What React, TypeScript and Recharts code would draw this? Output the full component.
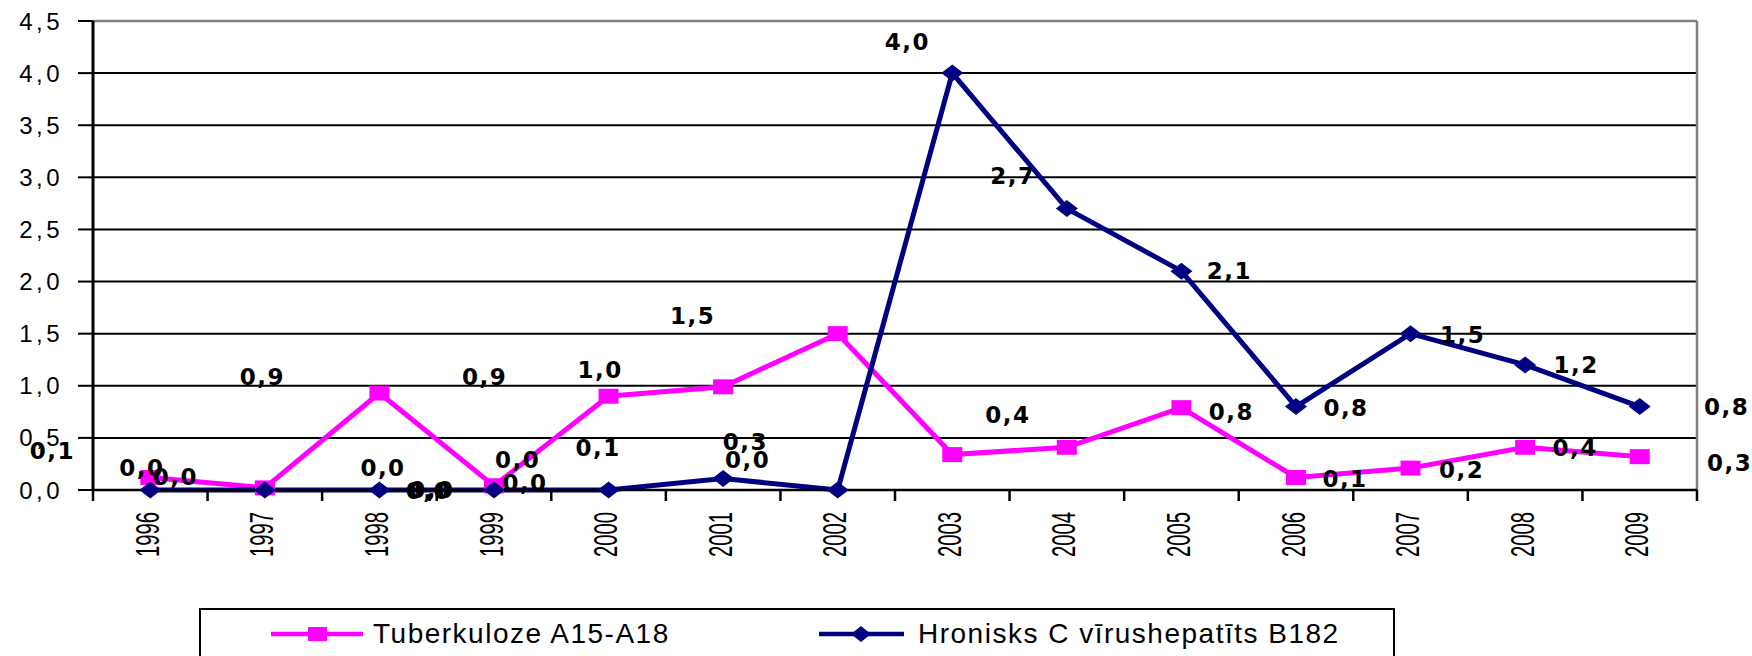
import React from 'react';
import {
  LineChart,
  Line,
  XAxis,
  YAxis,
  CartesianGrid,
  Legend,
  LabelList,
  ReferenceLine,
} from 'recharts';

// years and values
const years = ['1996', '1997', '1998', '1999', '2000', '2001', '2002', '2003', '2004', '2005', '2006', '2007', '2008', '2009'];
const tuberkuloze = [0.12, 0.02, 0.93, 0.04, 0.9, 0.99, 1.5, 0.34, 0.41, 0.79, 0.12, 0.21, 0.41, 0.32];
const hepatits = [0, 0, 0, 0, 0, 0.11, 0, 4.0, 2.7, 2.1, 0.8, 1.5, 1.2, 0.8];
const yTicks = [0, 0.5, 1, 1.5, 2, 2.5, 3, 3.5, 4, 4.5];

const TB_NAME = 'Tuberkuloze A15-A18';
const HCV_NAME = 'Hronisks C vīrushepatīts B182';
const TB_COLOR = '#FF00FF';
const HCV_COLOR = '#000080';

// label placement (dx, dy from the point) – the original labels sit oddly
const tbLabelOffsets = [
  [-98, -26], [-123, -20], [-117, -16], [-111, -18], [-124, -19], [-123, -17], [-145, -18],
  [-207, -13], [-59, -32], [50, 4], [49, 2], [51, 2], [50, 1], [90, 6],
];
const hcvLabelOffsets = [
  [25, -13], [167, 0], [49, 1], [31, -7], [-91, -30], [-125, -31], [-90, -30],
  [-45, -31], [-54, -33], [48, 0], [50, 1], [52, 1], [51, 0], [87, 0],
];

const CHART_W = 1752;
const CHART_H = 656;
const MARGIN = { top: 21, right: 55, bottom: 0, left: 0 };
const Y_AXIS_W = 93;
const X_AXIS_H = 166;
const PLOT_W = CHART_W - MARGIN.left - MARGIN.right - Y_AXIS_W;
const BAND = PLOT_W / years.length;

const chartData = years.map((year, i) => ({
  year,
  tb: tuberkuloze[i],
  hcv: hepatits[i],
}));

const fmt = (v: number) => v.toFixed(1).replace('.', ',');

const labelStyle: React.CSSProperties = {
  fontFamily: '"DejaVu Sans", Verdana, sans-serif',
  fontWeight: 700,
  fontSize: 23,
  letterSpacing: 1.5,
  fill: '#000',
};

const makeLabel = (offsets: number[][]) => (props: any) => {
  const { x, y, value, index } = props;
  if (x == null || y == null) return null;
  const [dx, dy] = offsets[index] ?? [0, 0];
  return (
    <text
      x={x + dx}
      y={y + dy}
      textAnchor="middle"
      dominantBaseline="central"
      style={labelStyle}
    >
      {fmt(Number(value))}
    </text>
  );
};

const SquareDot = (props: any) => {
  const { cx, cy } = props;
  if (cx == null || cy == null) return null;
  return <rect x={cx - 10} y={cy - 7.5} width={20} height={15} fill={TB_COLOR} />;
};

const DiamondDot = (props: any) => {
  const { cx, cy } = props;
  if (cx == null || cy == null) return null;
  return (
    <polygon
      points={`${cx},${cy - 8.5} ${cx + 11},${cy} ${cx},${cy + 8.5} ${cx - 11},${cy}`}
      fill={HCV_COLOR}
    />
  );
};

const YearTick = (props: any) => {
  const { x, y, payload, index } = props;
  const axisY = y - 22;
  return (
    <g>
      {index === 0 && (
        <line x1={x - BAND / 2} x2={x - BAND / 2} y1={axisY} y2={axisY + 11} stroke="#000" strokeWidth={2.5} />
      )}
      <line x1={x + BAND / 2} x2={x + BAND / 2} y1={axisY} y2={axisY + 11} stroke="#000" strokeWidth={2.5} />
      <text
        x={0}
        y={0}
        transform={`translate(${x - 3} ${y}) rotate(-90) scale(0.78 1.3)`}
        textAnchor="end"
        dominantBaseline="central"
        style={{
          fontFamily: '"Liberation Sans", Arial, sans-serif',
          fontSize: 26,
          fill: '#000',
        }}
      >
        {payload.value}
      </text>
    </g>
  );
};

const legendText: React.CSSProperties = {
  fontFamily: '"Liberation Sans", Arial, sans-serif',
  fontSize: 28,
  letterSpacing: 1.5,
  color: '#000',
  lineHeight: '28px',
};

const LegendBox = () => (
  <div
    style={{
      position: 'relative',
      width: '100%',
      height: '100%',
      border: '2px solid #000',
      boxSizing: 'border-box',
      background: '#fff',
    }}
  >
    <div style={{ position: 'absolute', left: 70, top: 10, display: 'flex', alignItems: 'center' }}>
      <svg width={92} height={28}>
        <line x1={0} x2={92} y1={14} y2={14} stroke={TB_COLOR} strokeWidth={4.5} />
        <rect x={37} y={7} width={19} height={14} fill={TB_COLOR} />
      </svg>
      <span style={{ ...legendText, marginLeft: 10 }}>{TB_NAME}</span>
    </div>
    <div style={{ position: 'absolute', left: 618, top: 10, display: 'flex', alignItems: 'center' }}>
      <svg width={85} height={28}>
        <line x1={0} x2={85} y1={14} y2={14} stroke={HCV_COLOR} strokeWidth={4.5} />
        <polygon points="42,6 52,14 42,22 32,14" fill={HCV_COLOR} />
      </svg>
      <span style={{ ...legendText, marginLeft: 14 }}>{HCV_NAME}</span>
    </div>
  </div>
);

const App: React.FC = () => {
  return (
    <div style={{ width: CHART_W, height: CHART_H, position: 'relative', background: '#fff', overflow: 'hidden' }}>
      <style>{'body { margin: 0; }'}</style>
      <LineChart width={CHART_W} height={CHART_H} data={chartData} margin={MARGIN}>
        <CartesianGrid horizontal vertical={false} stroke="#000" strokeWidth={2} />
        <CartesianGrid
          horizontal={false}
          vertical
          stroke="#808080"
          strokeWidth={2.5}
          verticalCoordinatesGenerator={({ offset }: any) => [offset.left + offset.width]}
        />
        <ReferenceLine y={4.5} stroke="#808080" strokeWidth={2.5} />
        <XAxis
          dataKey="year"
          interval={0}
          height={X_AXIS_H}
          padding={{ left: BAND / 2, right: BAND / 2 }}
          axisLine={{ stroke: '#000', strokeWidth: 2.5 }}
          tickLine={false}
          tickSize={10}
          tickMargin={12}
          tick={<YearTick />}
        />
        <YAxis
          width={Y_AXIS_W}
          domain={[0, 4.5]}
          ticks={yTicks}
          interval={0}
          tickFormatter={fmt}
          axisLine={{ stroke: '#000', strokeWidth: 3 }}
          tickLine={{ stroke: '#000', strokeWidth: 2 }}
          tickSize={15}
          tickMargin={15}
          tick={{
            fontFamily: '"Liberation Sans", Arial, sans-serif',
            fontSize: 24,
            letterSpacing: 3.5,
            fill: '#000',
          }}
        />
        <Legend
          layout="horizontal"
          verticalAlign="middle"
          align="center"
          content={<LegendBox />}
          wrapperStyle={{ position: 'absolute', left: 199, top: 608, width: 1196, height: 80 }}
        />
        <Line
          type="linear"
          dataKey="tb"
          name={TB_NAME}
          stroke={TB_COLOR}
          strokeWidth={5}
          dot={<SquareDot />}
          activeDot={false}
          isAnimationActive={false}
        >
          <LabelList dataKey="tb" content={makeLabel(tbLabelOffsets)} />
        </Line>
        <Line
          type="linear"
          dataKey="hcv"
          name={HCV_NAME}
          stroke={HCV_COLOR}
          strokeWidth={5}
          dot={<DiamondDot />}
          activeDot={false}
          isAnimationActive={false}
        >
          <LabelList dataKey="hcv" content={makeLabel(hcvLabelOffsets)} />
        </Line>
      </LineChart>
    </div>
  );
};

export default App;
